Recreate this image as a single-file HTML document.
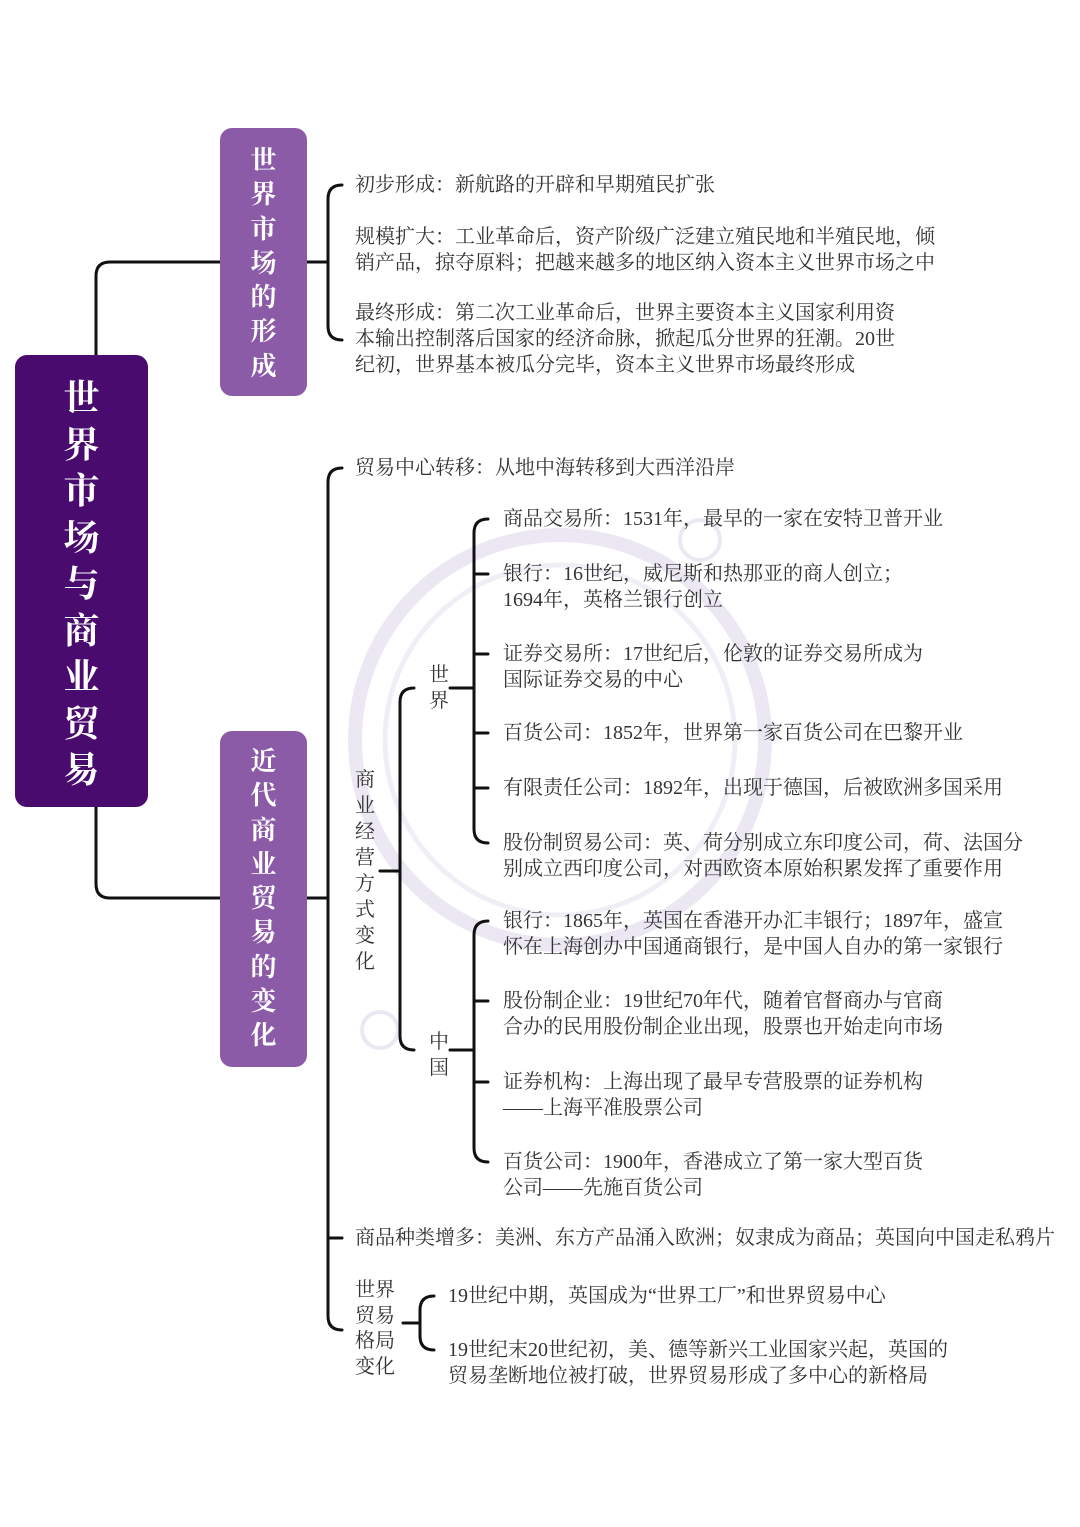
<!DOCTYPE html>
<html><head><meta charset="utf-8"><style>
body{margin:0;background:#fff;}
#c{position:relative;width:1080px;height:1527px;overflow:hidden;background:#fff;}
.t{position:absolute;font-family:"Liberation Serif","Noto Serif CJK SC",serif;font-size:20px;line-height:26px;color:#333;white-space:nowrap;}
.box{position:absolute;border-radius:12px;color:#fff;font-family:"Liberation Serif","Noto Serif CJK SC",serif;font-weight:bold;text-align:center;}
svg{position:absolute;left:0;top:0;}
</style></head><body><div id="c">
<svg width="1080" height="1527">
<circle cx="560" cy="740" r="205" fill="none" stroke="#ece8f3" stroke-width="14"/>
<circle cx="560" cy="740" r="175" fill="none" stroke="#f1eef6" stroke-width="5"/>
<circle cx="700" cy="540" r="20" fill="none" stroke="#ece8f3" stroke-width="4"/>
<circle cx="380" cy="1030" r="18" fill="none" stroke="#ece8f3" stroke-width="4"/>
<g fill="none" stroke="#111" stroke-width="3" stroke-linecap="round">
<path d="M96 355 V276 Q96 262 110 262 H220"/>
<path d="M96 807 V884 Q96 898 110 898 H220"/>
<path d="M307 262 H328"/>
<path d="M342 185 Q328 185 328 199 V326 Q328 340 342 340"/>
<path d="M307 898 H328"/>
<path d="M342 468 Q328 468 328 482 V1316 Q328 1330 342 1330"/>
<path d="M328 1238 H342"/>
<path d="M380 871 H400"/>
<path d="M414 688 Q400 688 400 702 V1036 Q400 1050 414 1050"/>
<path d="M450 688 H474"/>
<path d="M488 519 Q474 519 474 533 V829 Q474 843 488 843"/>
<path d="M474 574 H488 M474 654 H488 M474 733 H488 M474 788 H488"/>
<path d="M450 1050 H474"/>
<path d="M488 921 Q474 921 474 935 V1148 Q474 1162 488 1162"/>
<path d="M474 1001 H488 M474 1082 H488"/>
<path d="M403 1323 H420"/>
<path d="M434 1296 Q420 1296 420 1310 V1336 Q420 1350 434 1350"/>
</g>
</svg>
<div class="box" style="left:15px;top:355px;width:133px;height:452px;background:#4a0b6f;font-size:36px;line-height:46.5px;padding-top:20px;box-sizing:border-box;">世<br>界<br>市<br>场<br>与<br>商<br>业<br>贸<br>易</div>
<div class="box" style="left:220px;top:128px;width:87px;height:268px;background:#8c5ba8;font-size:26px;line-height:34.3px;padding-top:16px;box-sizing:border-box;">世<br>界<br>市<br>场<br>的<br>形<br>成</div>
<div class="box" style="left:220px;top:731px;width:87px;height:336px;background:#8c5ba8;font-size:26px;line-height:34.3px;padding-top:14px;box-sizing:border-box;">近<br>代<br>商<br>业<br>贸<br>易<br>的<br>变<br>化</div>

<div class="t" style="left:355px;top:172px">初步形成：新航路的开辟和早期殖民扩张</div>
<div class="t" style="left:355px;top:224px">规模扩大：工业革命后，资产阶级广泛建立殖民地和半殖民地，倾<br>销产品，掠夺原料；把越来越多的地区纳入资本主义世界市场之中</div>
<div class="t" style="left:355px;top:300px">最终形成：第二次工业革命后，世界主要资本主义国家利用资<br>本输出控制落后国家的经济命脉，掀起瓜分世界的狂潮。20世<br>纪初，世界基本被瓜分完毕，资本主义世界市场最终形成</div>

<div class="t" style="left:355px;top:455px">贸易中心转移：从地中海转移到大西洋沿岸</div>
<div class="t" style="left:355px;top:767px;line-height:26px">商<br>业<br>经<br>营<br>方<br>式<br>变<br>化</div>
<div class="t" style="left:429px;top:662px">世<br>界</div>
<div class="t" style="left:429px;top:1029px">中<br>国</div>

<div class="t" style="left:503px;top:506px">商品交易所：1531年，最早的一家在安特卫普开业</div>
<div class="t" style="left:503px;top:561px">银行：16世纪，威尼斯和热那亚的商人创立；<br>1694年，英格兰银行创立</div>
<div class="t" style="left:503px;top:641px">证券交易所：17世纪后，伦敦的证券交易所成为<br>国际证券交易的中心</div>
<div class="t" style="left:503px;top:720px">百货公司：1852年，世界第一家百货公司在巴黎开业</div>
<div class="t" style="left:503px;top:775px">有限责任公司：1892年，出现于德国，后被欧洲多国采用</div>
<div class="t" style="left:503px;top:830px">股份制贸易公司：英、荷分别成立东印度公司，荷、法国分<br>别成立西印度公司，对西欧资本原始积累发挥了重要作用</div>
<div class="t" style="left:503px;top:908px">银行：1865年，英国在香港开办汇丰银行；1897年，盛宣<br>怀在上海创办中国通商银行，是中国人自办的第一家银行</div>
<div class="t" style="left:503px;top:988px">股份制企业：19世纪70年代，随着官督商办与官商<br>合办的民用股份制企业出现，股票也开始走向市场</div>
<div class="t" style="left:503px;top:1069px">证券机构：上海出现了最早专营股票的证券机构<br>——上海平准股票公司</div>
<div class="t" style="left:503px;top:1149px">百货公司：1900年，香港成立了第一家大型百货<br>公司——先施百货公司</div>

<div class="t" style="left:355px;top:1225px">商品种类增多：美洲、东方产品涌入欧洲；奴隶成为商品；英国向中国走私鸦片</div>
<div class="t" style="left:355px;top:1278px;line-height:25.5px">世界<br>贸易<br>格局<br>变化</div>
<div class="t" style="left:448px;top:1283px">19世纪中期，英国成为“世界工厂”和世界贸易中心</div>
<div class="t" style="left:448px;top:1337px">19世纪末20世纪初，美、德等新兴工业国家兴起，英国的<br>贸易垄断地位被打破，世界贸易形成了多中心的新格局</div>
</div></body></html>
